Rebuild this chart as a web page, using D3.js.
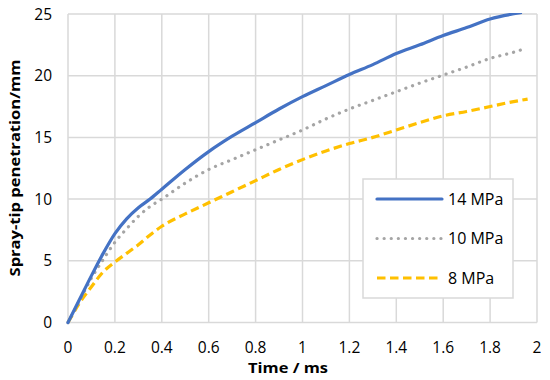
<!DOCTYPE html>
<html>
<head>
<meta charset="utf-8">
<script src="https://cdn.jsdelivr.net/npm/d3@7"></script>
<style>
  body { margin: 0; background: #fff; }
  svg { display: block; }
</style>
</head>
<body>
<main></main>
<script>
// sample times (ms) and penetration (mm) per injection pressure
const time14 = [0, 0.05, 0.1, 0.15, 0.2, 0.25, 0.3, 0.35, 0.4, 0.5, 0.6, 0.7, 0.8, 0.9, 1.0, 1.1, 1.2, 1.3, 1.4, 1.5, 1.6, 1.7, 1.8, 1.93];
const pen14 = [0, 1.9, 3.8, 5.6, 7.2, 8.4, 9.3, 10.0, 10.8, 12.4, 13.85, 15.1, 16.2, 17.3, 18.3, 19.2, 20.1, 20.9, 21.8, 22.5, 23.25, 23.9, 24.6, 25.1];

const time10 = [0, 0.05, 0.1, 0.15, 0.2, 0.25, 0.3, 0.35, 0.4, 0.5, 0.6, 0.7, 0.8, 0.9, 1.0, 1.1, 1.2, 1.3, 1.4, 1.5, 1.6, 1.7, 1.8, 1.9, 1.95];
const pen10 = [0, 1.8, 3.6, 5.1, 6.5, 7.6, 8.6, 9.4, 10.0, 11.3, 12.4, 13.2, 14.0, 14.8, 15.6, 16.5, 17.3, 18.0, 18.7, 19.4, 20.05, 20.7, 21.4, 21.9, 22.2];

const time8 = [0, 0.05, 0.1, 0.15, 0.2, 0.25, 0.3, 0.35, 0.4, 0.5, 0.6, 0.7, 0.8, 0.9, 1.0, 1.1, 1.2, 1.3, 1.4, 1.5, 1.6, 1.7, 1.8, 1.9, 1.96];
const pen8 = [0, 1.6, 2.9, 4.1, 4.9, 5.6, 6.3, 7.1, 7.8, 8.8, 9.7, 10.6, 11.5, 12.4, 13.2, 13.9, 14.5, 15.0, 15.6, 16.2, 16.75, 17.1, 17.5, 17.9, 18.1];

const seriesNames = ['14 MPa', '10 MPa', '8 MPa'];
const xTicks = [0, 0.2, 0.4, 0.6, 0.8, 1, 1.2, 1.4, 1.6, 1.8, 2];
const yTicks = [0, 5, 10, 15, 20, 25];

const width = 550;
const height = 380;
const margin = { top: 14, right: 13, bottom: 57.5, left: 68 };
const font = "'Open Sans', 'Noto Sans', sans-serif";

const series = [
  { name: seriesNames[0], t: time14, v: pen14, color: '#4472C4', dash: null, cap: 'round' },
  { name: seriesNames[1], t: time10, v: pen10, color: '#A5A5A5', dash: '0.1 7', cap: 'round' },
  { name: seriesNames[2], t: time8, v: pen8, color: '#FFC000', dash: '8.5 4.5', cap: 'butt' }
];

const svg = d3.select('main')
  .append('svg')
  .attr('width', width)
  .attr('height', height)
  .style('font-family', font);

const x = d3.scaleLinear()
  .domain([0, 2])
  .range([margin.left, width - margin.right]);

const y = d3.scaleLinear()
  .domain([0, 25])
  .range([height - margin.bottom, margin.top]);

// Grid
svg.append('g')
  .selectAll('line')
  .data(xTicks)
  .enter()
  .append('line')
  .attr('x1', d => x(d))
  .attr('x2', d => x(d))
  .attr('y1', y(0))
  .attr('y2', y(25))
  .attr('stroke', '#D9D9D9')
  .attr('stroke-width', 1.5);

svg.append('g')
  .selectAll('line')
  .data(yTicks)
  .enter()
  .append('line')
  .attr('x1', x(0))
  .attr('x2', x(2))
  .attr('y1', d => y(d))
  .attr('y2', d => y(d))
  .attr('stroke', '#D9D9D9')
  .attr('stroke-width', 1.5);

// Tick labels
svg.append('g')
  .selectAll('text')
  .data(xTicks)
  .enter()
  .append('text')
  .attr('x', d => x(d))
  .attr('y', 353)
  .attr('text-anchor', 'middle')
  .style('font-size', '15.5px')
  .attr('fill', '#000')
  .text(d => d);

svg.append('g')
  .selectAll('text')
  .data(yTicks)
  .enter()
  .append('text')
  .attr('x', 52)
  .attr('y', d => y(d))
  .attr('dy', '0.36em')
  .attr('text-anchor', 'end')
  .style('font-size', '15.5px')
  .attr('fill', '#000')
  .text(d => d);

// Axis titles
svg.append('text')
  .attr('x', 288)
  .attr('y', 373)
  .attr('text-anchor', 'middle')
  .attr('textLength', 80)
  .attr('lengthAdjust', 'spacingAndGlyphs')
  .style('font-size', '15px')
  .style('font-weight', 700)
  .text('Time / ms');

svg.append('text')
  .attr('transform', 'translate(20, 168) rotate(-90)')
  .attr('text-anchor', 'middle')
  .attr('textLength', 217)
  .attr('lengthAdjust', 'spacingAndGlyphs')
  .style('font-size', '15px')
  .style('font-weight', 700)
  .text('Spray-tip penetration/mm');

// Lines
svg.append('clipPath')
  .attr('id', 'plot-clip')
  .append('rect')
  .attr('x', x(0) - 3)
  .attr('y', y(25) - 1)
  .attr('width', x(2) - x(0) + 6)
  .attr('height', y(0) - y(25) + 4);

const line = d3.line()
  .x(d => x(d[0]))
  .y(d => y(d[1]))
  .curve(d3.curveMonotoneX);

svg.append('g')
  .attr('clip-path', 'url(#plot-clip)')
  .selectAll('path')
  .data(series.slice().reverse())
  .enter()
  .append('path')
  .attr('d', s => line(s.t.map((t, i) => [t, s.v[i]])))
  .attr('fill', 'none')
  .attr('stroke', s => s.color)
  .attr('stroke-width', 3.2)
  .attr('stroke-linecap', s => s.cap)
  .attr('stroke-linejoin', 'round')
  .attr('stroke-dasharray', s => s.dash);

// Legend
const legend = svg.append('g')
  .attr('transform', 'translate(363, 179)');

legend.append('rect')
  .attr('width', 150)
  .attr('height', 119)
  .attr('fill', '#fff')
  .attr('stroke', '#D9D9D9')
  .attr('stroke-width', 1.5);

const items = legend.selectAll('g')
  .data(series)
  .enter()
  .append('g')
  .attr('transform', (d, i) => `translate(0, ${20 + i * 39.5})`);

items.append('line')
  .attr('x1', 14)
  .attr('x2', 79)
  .attr('stroke', d => d.color)
  .attr('stroke-width', 3.2)
  .attr('stroke-linecap', d => d.cap)
  .attr('stroke-dasharray', d => d.dash);

items.append('text')
  .attr('x', 85)
  .attr('dy', '0.36em')
  .style('font-size', '16px')
  .text(d => d.name);
</script>
</body>
</html>
